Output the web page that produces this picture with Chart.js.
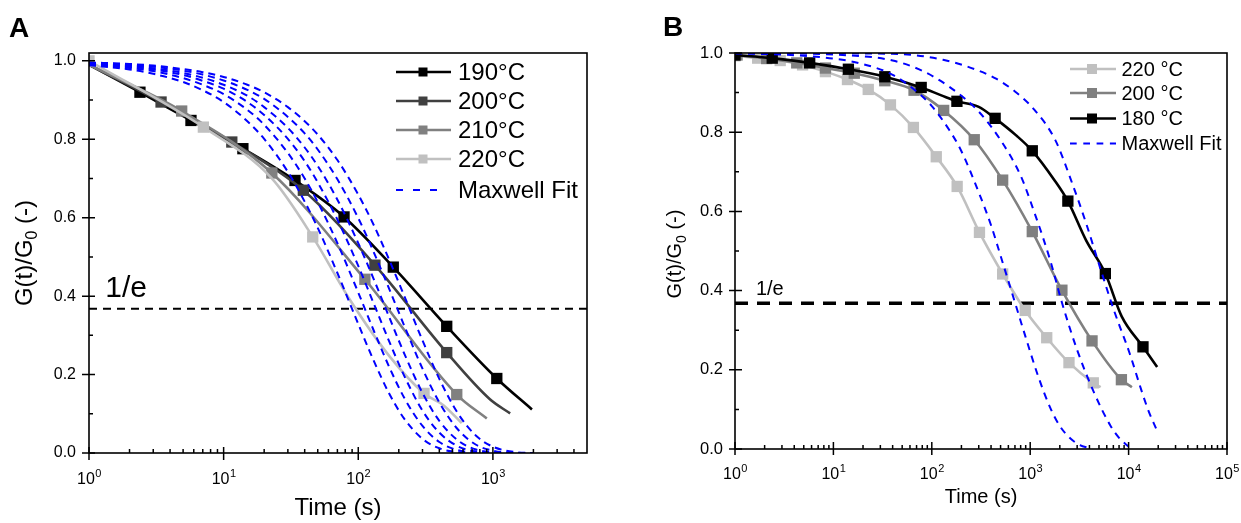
<!DOCTYPE html>
<html><head><meta charset="utf-8">
<script src="https://cdn.jsdelivr.net/npm/chart.js@4.4.1/dist/chart.umd.min.js"></script>
<style>
html,body{margin:0;padding:0;background:#fff;width:1241px;height:523px;overflow:hidden}
#ca{position:absolute;left:0;top:0}
#cb{position:absolute;left:620px;top:0}
</style></head><body>
<canvas id="ca" width="620" height="523"></canvas>
<canvas id="cb" width="621" height="523"></canvas>
<script>
// ================= DATA =================
// ---- Panel A ----
const A_xTicks = [1, 10, 100, 1000];
const A_xBase = ['10', '10', '10', '10'];
const A_xExp = ['0', '1', '2', '3'];
const A_yTicks = [0, 0.2, 0.4, 0.6, 0.8, 1.0];
const A_yMinor = [0.1, 0.3, 0.5, 0.7, 0.9];
const A_labels = ['190°C', '200°C', '210°C', '220°C', 'Maxwell Fit'];

const A190_t = [1, 2.39, 5.72, 13.9, 33.9, 78.4, 182, 454, 1069, 1950];
const A190_g = [0.99, 0.920, 0.848, 0.776, 0.695, 0.602, 0.474, 0.323, 0.190, 0.111];
const A190_m = [0, 1, 1, 1, 1, 1, 1, 1, 1, 0];

const A200_t = [1, 3.43, 11.5, 39.1, 133, 454, 950, 1343];
const A200_g = [0.99, 0.895, 0.793, 0.670, 0.479, 0.256, 0.137, 0.101];
const A200_m = [0, 1, 1, 1, 1, 1, 0, 0];

const A210_t = [1, 4.88, 22.8, 112, 539, 901];
const A210_g = [0.99, 0.872, 0.714, 0.443, 0.149, 0.088];
const A210_m = [0, 1, 1, 1, 1, 0];

const A220_t = [1, 7.07, 22.8, 45.9, 86.9, 172, 308, 429, 587];
const A220_g = [1.0, 0.831, 0.70, 0.551, 0.39, 0.245, 0.152, 0.122, 0.076];
const A220_m = [1, 1, 0, 1, 0, 0, 1, 0, 0];

const AF_t = [1, 2, 3, 5, 7, 10, 15, 20, 30, 40, 50, 70, 100, 130, 170, 220, 300, 400, 550, 750, 1000, 1500, 2000];
const AF1_g = [0.989, 0.978, 0.967, 0.946, 0.925, 0.895, 0.846, 0.801, 0.717, 0.641, 0.574, 0.459, 0.329, 0.236, 0.151, 0.087, 0.036, 0.012, 0.002, 0.0, 0.0, 0.0, 0.0];
const AF2_g = [0.991, 0.982, 0.974, 0.956, 0.939, 0.915, 0.875, 0.837, 0.765, 0.700, 0.640, 0.535, 0.409, 0.313, 0.219, 0.140, 0.069, 0.028, 0.007, 0.001, 0.0, 0.0, 0.0];
const AF3_g = [0.993, 0.985, 0.978, 0.964, 0.949, 0.929, 0.895, 0.862, 0.801, 0.744, 0.690, 0.595, 0.477, 0.382, 0.284, 0.196, 0.108, 0.052, 0.017, 0.004, 0.001, 0.0, 0.0];
const AF4_g = [0.994, 0.988, 0.981, 0.969, 0.957, 0.939, 0.911, 0.882, 0.829, 0.779, 0.732, 0.646, 0.535, 0.444, 0.346, 0.253, 0.153, 0.082, 0.032, 0.009, 0.002, 0.0, 0.0];
const AF5_g = [0.995, 0.990, 0.985, 0.975, 0.965, 0.950, 0.926, 0.903, 0.857, 0.815, 0.774, 0.698, 0.599, 0.513, 0.418, 0.324, 0.215, 0.129, 0.060, 0.021, 0.006, 0.0, 0.0];
const AF6_g = [0.996, 0.992, 0.988, 0.979, 0.971, 0.959, 0.939, 0.920, 0.882, 0.846, 0.812, 0.747, 0.659, 0.582, 0.492, 0.400, 0.287, 0.189, 0.101, 0.044, 0.016, 0.002, 0.0];

const A_e_t = [1, 5000];
const A_e_g = [0.368, 0.368];

// ---- Panel B ----
const B_xTicks = [1, 10, 100, 1000, 10000, 100000];
const B_xBase = ['10', '10', '10', '10', '10', '10'];
const B_xExp = ['0', '1', '2', '3', '4', '5'];
const B_yTicks = [0, 0.2, 0.4, 0.6, 0.8, 1.0];
const B_yMinor = [0.1, 0.3, 0.5, 0.7, 0.9];
const B_labels = ['220 °C', '200 °C', '180 °C', 'Maxwell Fit'];

const B220_t = [1.0, 1.7, 2.88, 4.86, 8.3, 13.9, 22.6, 38, 65, 111, 181, 305, 525, 890, 1472, 2478, 4375, 5200];
const B220_g = [0.993, 0.987, 0.981, 0.970, 0.953, 0.933, 0.908, 0.869, 0.812, 0.738, 0.663, 0.547, 0.442, 0.350, 0.281, 0.218, 0.167, 0.156];
const B220_m = [1, 1, 1, 1, 1, 1, 1, 1, 1, 1, 1, 1, 1, 1, 1, 1, 1, 0];

const B200_t = [1.05, 2.1, 4.24, 8.3, 16.3, 33.3, 66, 132, 270, 525, 1050, 2100, 4250, 8450, 10800];
const B200_g = [0.995, 0.986, 0.975, 0.962, 0.949, 0.930, 0.906, 0.855, 0.781, 0.679, 0.549, 0.401, 0.273, 0.175, 0.156];
const B200_m = [1, 1, 1, 1, 1, 1, 1, 1, 1, 1, 1, 1, 1, 1, 0];

const B180_t = [1.0, 2.39, 5.74, 14.2, 33.3, 78, 125, 180, 300, 440, 720, 1050, 1750, 2414, 3700, 5800, 8500, 14000, 19500];
const B180_g = [0.995, 0.987, 0.975, 0.959, 0.940, 0.913, 0.893, 0.878, 0.864, 0.835, 0.792, 0.753, 0.680, 0.626, 0.527, 0.443, 0.335, 0.258, 0.207];
const B180_m = [1, 1, 1, 1, 1, 1, 0, 1, 0, 1, 0, 1, 0, 1, 0, 1, 0, 1, 0];

const BF1_t = [1, 3, 10, 20, 40, 70, 100, 150, 200, 300, 400, 500, 700, 900, 1200, 1600, 2000, 2600, 3200, 4000];
const BF1_g = [0.999, 0.996, 0.986, 0.972, 0.945, 0.903, 0.866, 0.806, 0.752, 0.648, 0.565, 0.488, 0.370, 0.282, 0.185, 0.104, 0.058, 0.025, 0.010, 0.002];
const BF2_t = [1, 10, 40, 80, 150, 300, 500, 800, 1100, 1600, 2100, 3000, 4500, 6500, 8000, 10000];
const BF2_g = [1.0, 0.996, 0.981, 0.955, 0.915, 0.852, 0.780, 0.690, 0.598, 0.476, 0.370, 0.250, 0.140, 0.060, 0.028, 0.006];
const BF3_t = [1, 40, 130, 280, 450, 700, 1100, 1800, 2600, 3700, 5100, 7100, 10300, 13500, 16000, 19000];
const BF3_g = [1.0, 0.998, 0.983, 0.958, 0.935, 0.903, 0.857, 0.780, 0.679, 0.570, 0.460, 0.350, 0.240, 0.148, 0.095, 0.052];

const B_e_t = [1, 100000];
const B_e_g = [0.368, 0.368];

// ================= STYLE / HELPERS =================
const FONT = "'Liberation Sans', Arial, Helvetica, sans-serif";
const BLUE = '#0000ff';
const MARK_R = 8;

function pts(t, g) { return t.map((v, i) => ({ x: v, y: g[i] })); }

function dataDS(t, g, m, color, order, width, r) {
  return {
    data: pts(t, g), borderColor: color, backgroundColor: color, borderWidth: width,
    pointStyle: 'rect', pointRadius: (c) => (m[c.dataIndex] ? r : 0), pointBorderWidth: 0,
    pointBackgroundColor: color, cubicInterpolationMode: 'monotone', order: order
  };
}
function fitDS(t, g, order, dash, width) {
  return {
    data: pts(t, g), borderColor: BLUE, borderWidth: width, borderDash: dash,
    pointRadius: 0, cubicInterpolationMode: 'monotone', order: order
  };
}
function eDS(t, g, dash, width) {
  return { data: pts(t, g), borderColor: '#000', borderWidth: width, borderDash: dash, pointRadius: 0, order: 100 };
}

function panelPlugin(P) {
  return {
    id: 'panel' + P.letter,
    afterDraw(chart) {
      const ctx = chart.ctx, ca = chart.chartArea, xs = chart.scales.x, ys = chart.scales.y;
      ctx.save();
      // frame
      ctx.strokeStyle = '#000';
      ctx.lineWidth = P.axisW;
      ctx.strokeRect(ca.left, ca.top, ca.right - ca.left, ca.bottom - ca.top);
      // ticks
      ctx.beginPath();
      P.xTicks.forEach(v => { const px = xs.getPixelForValue(v); ctx.moveTo(px, ca.bottom + P.tickOut); ctx.lineTo(px, ca.bottom - P.tickIn); });
      for (let d = 1; d < P.xMax; d *= 10) {
        for (let k = 2; k <= 9; k++) {
          const v = k * d; if (v >= P.xMax) break;
          const px = xs.getPixelForValue(v); ctx.moveTo(px, ca.bottom); ctx.lineTo(px, ca.bottom - P.minorIn);
        }
      }
      P.yTicks.forEach(v => { const py = ys.getPixelForValue(v); ctx.moveTo(ca.left - P.tickOut, py); ctx.lineTo(ca.left + P.tickIn, py); });
      P.yMinor.forEach(v => { const py = ys.getPixelForValue(v); ctx.moveTo(ca.left, py); ctx.lineTo(ca.left + P.minorIn, py); });
      ctx.lineWidth = P.tickW;
      ctx.stroke();

      ctx.fillStyle = '#000';
      ctx.textBaseline = 'alphabetic';
      // x tick labels with superscripts
      P.xTicks.forEach((v, i) => {
        const px = xs.getPixelForValue(v);
        ctx.font = P.xLabSize + 'px ' + FONT;
        const w1 = ctx.measureText(P.xBase[i]).width;
        ctx.font = P.expSize + 'px ' + FONT;
        const w2 = ctx.measureText(P.xExp[i]).width;
        const x0 = px - (w1 + w2) / 2;
        ctx.textAlign = 'left';
        ctx.font = P.xLabSize + 'px ' + FONT;
        ctx.fillText(P.xBase[i], x0, P.xLabY);
        ctx.font = P.expSize + 'px ' + FONT;
        ctx.fillText(P.xExp[i], x0 + w1 + 0.5, P.xLabY - P.expRise);
      });
      // x title
      ctx.textAlign = 'center';
      ctx.font = P.titleSize + 'px ' + FONT;
      ctx.fillText(P.xTitle, (ca.left + ca.right) / 2, P.xTitleY);
      // y title rotated with subscript
      ctx.save();
      ctx.translate(P.yTitleX, (ca.top + ca.bottom) / 2 + P.yTitleDy);
      ctx.rotate(-Math.PI / 2);
      ctx.textAlign = 'left';
      const s = P.titleSize, ss = Math.round(s * 0.68);
      ctx.font = s + 'px ' + FONT; const wa = ctx.measureText(P.yTitle[0]).width; const wc = ctx.measureText(P.yTitle[2]).width;
      ctx.font = ss + 'px ' + FONT; const wb = ctx.measureText(P.yTitle[1]).width;
      let x = -(wa + wb + wc) / 2; const by = s * 0.36;
      ctx.font = s + 'px ' + FONT; ctx.fillText(P.yTitle[0], x, by); x += wa;
      ctx.font = ss + 'px ' + FONT; ctx.fillText(P.yTitle[1], x, by + s * 0.22); x += wb;
      ctx.font = s + 'px ' + FONT; ctx.fillText(P.yTitle[2], x, by);
      ctx.restore();
      // panel letter
      ctx.textAlign = 'left';
      ctx.font = 'bold ' + P.letterSize + 'px ' + FONT;
      ctx.fillText(P.letter, P.letterX, P.letterY);
      // 1/e label
      ctx.font = P.eSize + 'px ' + FONT;
      ctx.fillText('1/e', xs.getPixelForValue(P.eX), ys.getPixelForValue(P.eY));
      // legend
      const L = P.legend;
      L.items.forEach((it, i) => {
        const y = L.rows[i];
        ctx.save();
        ctx.strokeStyle = it.color;
        if (it.dash) { ctx.setLineDash(it.dash); ctx.lineWidth = L.dashW; ctx.beginPath(); ctx.moveTo(L.x0, y); ctx.lineTo(L.dx1, y); ctx.stroke(); }
        else {
          ctx.lineWidth = L.lineW; ctx.beginPath(); ctx.moveTo(L.x0, y); ctx.lineTo(L.x1, y); ctx.stroke();
          ctx.fillStyle = it.color; ctx.fillRect(L.mx - L.ms / 2, y - L.ms / 2, L.ms, L.ms);
        }
        ctx.restore();
        ctx.fillStyle = '#000';
        ctx.font = L.size + 'px ' + FONT;
        ctx.textBaseline = 'middle';
        ctx.fillText(it.label, L.tx, y + 1);
        ctx.textBaseline = 'alphabetic';
      });
      ctx.restore();
    }
  };
}

function makeChart(id, datasets, xMax, yMax, yTicks, yFont, yPad, pad, yW, xH, P) {
  return new Chart(document.getElementById(id), {
    type: 'line',
    data: { datasets: datasets },
    options: {
      responsive: false, animation: false, events: [],
      layout: { padding: pad },
      plugins: { legend: { display: false }, tooltip: { enabled: false } },
      scales: {
        x: {
          type: 'logarithmic', min: 1, max: xMax,
          grid: { display: false, drawTicks: false }, border: { display: false },
          ticks: { display: false },
          afterFit: (sc) => { sc.height = xH; }
        },
        y: {
          type: 'linear', min: 0, max: yMax,
          grid: { display: false, drawTicks: false }, border: { display: false },
          afterBuildTicks: (sc) => { sc.ticks = yTicks.map(v => ({ value: v })); },
          ticks: { font: { family: FONT, size: yFont }, color: '#000', padding: yPad, callback: (v) => Number(v).toFixed(1) },
          afterFit: (sc) => { sc.width = yW; }
        }
      }
    },
    plugins: [panelPlugin(P)]
  });
}

// ================= PANEL A =================
const dsA = [
  eDS(A_e_t, A_e_g, [8, 6], 2),
  dataDS(A190_t, A190_g, A190_m, '#000000', 40, 2.6, MARK_R),
  dataDS(A200_t, A200_g, A200_m, '#404040', 39, 2.6, MARK_R),
  dataDS(A210_t, A210_g, A210_m, '#808080', 38, 2.6, MARK_R),
  dataDS(A220_t, A220_g, A220_m, '#c0c0c0', 37, 2.6, MARK_R),
  fitDS(AF_t, AF1_g, 10, [7, 5], 2),
  fitDS(AF_t, AF2_g, 10, [7, 5], 2),
  fitDS(AF_t, AF3_g, 10, [7, 5], 2),
  fitDS(AF_t, AF4_g, 10, [7, 5], 2),
  fitDS(AF_t, AF5_g, 10, [7, 5], 2),
  fitDS(AF_t, AF6_g, 10, [7, 5], 2)
];
const PA = {
  letter: 'A', letterX: 9, letterY: 37, letterSize: 28,
  xTicks: A_xTicks, xBase: A_xBase, xExp: A_xExp, xMax: 5000, yTicks: A_yTicks, yMinor: A_yMinor,
  axisW: 1.6, tickW: 1.5, tickOut: 7, tickIn: 6, minorIn: 4,
  xLabSize: 16, expSize: 11, expRise: 7, xLabY: 484,
  titleSize: 24, xTitle: 'Time (s)', xTitleY: 515, yTitle: ['G(t)/G', '0', ' (-)'], yTitleX: 23, yTitleDy: 0,
  eSize: 30, eX: 1.32, eY: 0.397,
  legend: {
    items: [
      { label: A_labels[0], color: '#000000' }, { label: A_labels[1], color: '#404040' },
      { label: A_labels[2], color: '#808080' }, { label: A_labels[3], color: '#c0c0c0' },
      { label: A_labels[4], color: BLUE, dash: [7, 10] }
    ],
    rows: [72, 101, 130, 159, 190], x0: 396, x1: 451, dx1: 443, mx: 423, ms: 9, tx: 458,
    size: 24, lineW: 2.6, dashW: 2
  }
};
makeChart('ca', dsA, 5000, 1.02, A_yTicks, 16, 13, { left: 0, right: 33, top: 53, bottom: 0 }, 89, 70, PA);

// ================= PANEL B =================
const dsB = [
  eDS(B_e_t, B_e_g, [13, 9], 3.5),
  dataDS(B220_t, B220_g, B220_m, '#c0c0c0', 40, 2.6, MARK_R),
  dataDS(B200_t, B200_g, B200_m, '#808080', 39, 2.6, MARK_R),
  dataDS(B180_t, B180_g, B180_m, '#000000', 38, 2.6, MARK_R),
  fitDS(BF1_t, BF1_g, 10, [7, 6], 2),
  fitDS(BF2_t, BF2_g, 10, [7, 6], 2),
  fitDS(BF3_t, BF3_g, 10, [7, 6], 2)
];
const PB = {
  letter: 'B', letterX: 43, letterY: 36, letterSize: 28,
  xTicks: B_xTicks, xBase: B_xBase, xExp: B_xExp, xMax: 100000, yTicks: B_yTicks, yMinor: B_yMinor,
  axisW: 1.6, tickW: 1.5, tickOut: 6, tickIn: 7, minorIn: 4,
  xLabSize: 16, expSize: 11, expRise: 7, xLabY: 479,
  titleSize: 20, xTitle: 'Time (s)', xTitleY: 503, yTitle: ['G(t)/G', '0', ' (-)'], yTitleX: 54, yTitleDy: 3,
  eSize: 20, eX: 1.63, eY: 0.388,
  legend: {
    items: [
      { label: B_labels[0], color: '#c0c0c0' }, { label: B_labels[1], color: '#808080' },
      { label: B_labels[2], color: '#000000' }, { label: B_labels[3], color: BLUE, dash: [6.7, 6.6] }
    ],
    rows: [69, 93, 118.5, 143.5], x0: 450, x1: 496, dx1: 496, mx: 472, ms: 10, tx: 501.5,
    size: 20, lineW: 2.6, dashW: 2
  }
};
makeChart('cb', dsB, 100000, 1.0, B_yTicks, 16.5, 12, { left: 0, right: 14, top: 53, bottom: 0 }, 115, 74, PB);
</script></body></html>
